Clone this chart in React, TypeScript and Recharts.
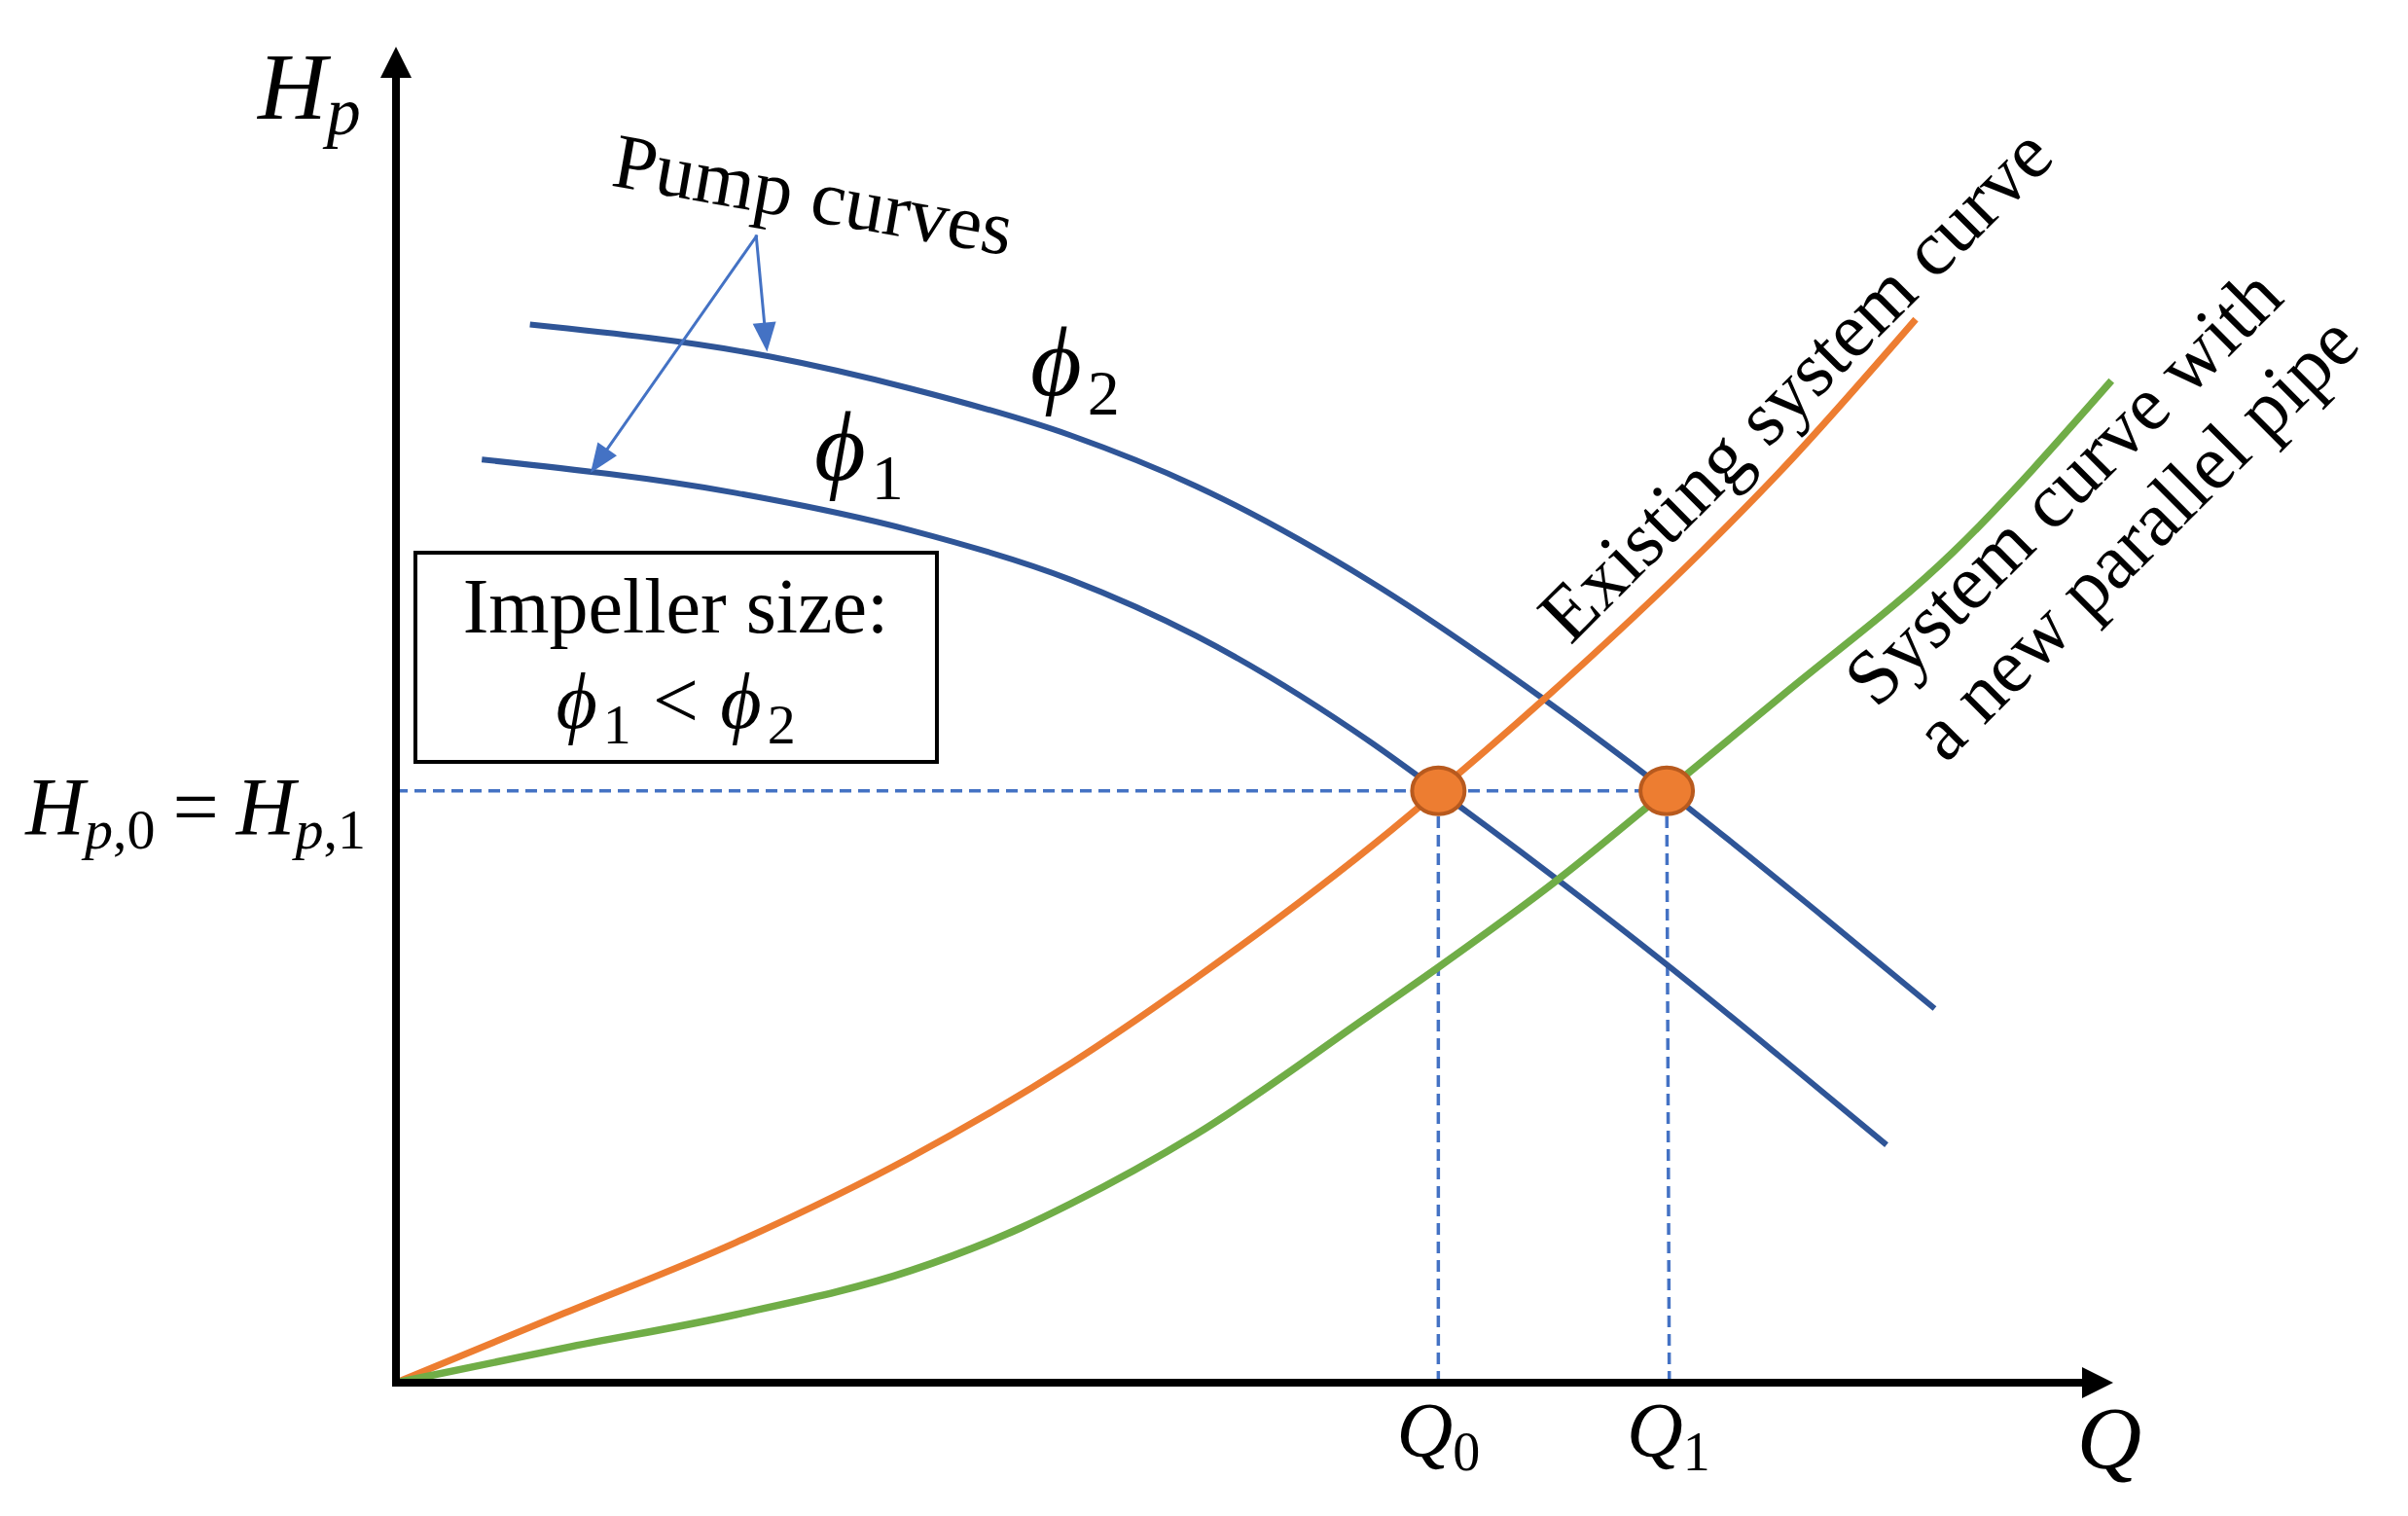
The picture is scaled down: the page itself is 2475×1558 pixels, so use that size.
import React from 'react'
import {
  ComposedChart, Line, Scatter, XAxis, YAxis,
  ReferenceLine, ReferenceDot, ReferenceArea,
} from 'recharts'

// axes run 0..100 in both directions (flow Q, head Hp)
const PUMP_PHI2 = [
  { x: 7.8, y: 79.2 }, { x: 21.8, y: 76.8 }, { x: 30.0, y: 74.4 }, { x: 39.3, y: 70.9 },
  { x: 46.6, y: 67.1 }, { x: 56.7, y: 60.0 }, { x: 66.8, y: 51.2 }, { x: 74.0, y: 44.3 },
  { x: 83.1, y: 34.9 }, { x: 89.6, y: 28.0 },
]
const PUMP_PHI1 = [
  { x: 5.0, y: 69.1 }, { x: 19.8, y: 66.6 }, { x: 30.0, y: 63.8 }, { x: 39.3, y: 60.1 },
  { x: 46.6, y: 55.9 }, { x: 56.7, y: 48.0 }, { x: 60.7, y: 44.3 }, { x: 67.8, y: 37.5 },
  { x: 73.9, y: 31.4 }, { x: 80.6, y: 24.4 }, { x: 86.8, y: 17.8 },
]
const SYSTEM_EXISTING = [
  { x: 0, y: 0 }, { x: 9.8, y: 5.2 }, { x: 19.8, y: 10.5 }, { x: 30.0, y: 16.9 },
  { x: 39.3, y: 23.9 }, { x: 46.6, y: 30.3 }, { x: 57.9, y: 41.3 }, { x: 60.7, y: 44.3 },
  { x: 66.8, y: 51.1 }, { x: 76.1, y: 62.3 }, { x: 80.6, y: 68.2 }, { x: 88.5, y: 79.6 },
]
const SYSTEM_PARALLEL = [
  { x: 0, y: 0 }, { x: 9.8, y: 2.6 }, { x: 19.8, y: 5.1 }, { x: 30.0, y: 8.4 },
  { x: 36.4, y: 11.6 }, { x: 39.3, y: 13.4 }, { x: 46.6, y: 18.6 }, { x: 56.7, y: 27.5 },
  { x: 60.6, y: 31.0 }, { x: 67.8, y: 37.8 }, { x: 74.0, y: 44.3 }, { x: 80.6, y: 51.3 },
  { x: 90.7, y: 62.2 }, { x: 99.9, y: 75.0 },
]
const OPERATING_POINTS = [{ x: 60.7, y: 44.3 }, { x: 74.0, y: 44.3 }]
const X_TICKS = [60.7, 74.1]
const X_TICK_SUBS = ['0', '1']
const Y_TICKS = [44.3]

const SERIF = "'Liberation Serif', 'DejaVu Serif', serif"
const PHI = '\u03D5'
const BLUE = '#2F5597'
const ORANGE = '#ED7D31'
const GREEN = '#70AD47'
const GUIDE = '#4472C4'

// line with a filled triangle at its end
const arrow = (len: number, wid: number, color: string, lw: number) => (p: any) => {
  const { x1, y1, x2, y2 } = p
  const a = Math.atan2(y2 - y1, x2 - x1)
  const bx = x2 - len * Math.cos(a)
  const by = y2 - len * Math.sin(a)
  const nx = (-Math.sin(a) * wid) / 2
  const ny = (Math.cos(a) * wid) / 2
  return (
    <g>
      <line x1={x1} y1={y1} x2={bx} y2={by} stroke={color} strokeWidth={lw} strokeLinecap="square" />
      <polygon points={`${x2},${y2} ${bx + nx},${by + ny} ${bx - nx},${by - ny}`} fill={color} />
    </g>
  )
}

const rotated = (text: string, angle: number, size = 80) => (p: any) => (
  <text
    x={p.cx} y={p.cy} transform={`rotate(${angle} ${p.cx} ${p.cy})`}
    textAnchor="middle" dominantBaseline="central" fontFamily={SERIF} fontSize={size} fill="#000"
  >
    {text}
  </text>
)

const phiLabel = (sub: string) => (p: any) => (
  <text x={p.cx} y={p.cy} fontFamily={SERIF} fontSize={102} fill="#000">
    <tspan fontStyle="italic">{PHI}</tspan>
    <tspan fontSize={66} dy={20} dx={6}>{sub}</tspan>
  </text>
)

const impellerLine = (p: any) => (
  <text x={p.cx} y={p.cy} textAnchor="middle" fontFamily={SERIF} fontSize={82} fill="#000">
    <tspan fontStyle="italic">{PHI}</tspan>
    <tspan fontSize={58} dy={16} dx={6}>1</tspan>
    <tspan dy={-16} dx={22} fontSize={84}>{'<'}</tspan>
    <tspan dx={22} fontStyle="italic">{PHI}</tspan>
    <tspan fontSize={58} dy={16} dx={6}>2</tspan>
  </text>
)

const hpLabel = (p: any) => (
  <text x={p.cx} y={p.cy} fontFamily={SERIF} fontSize={98} fontStyle="italic" fill="#000">
    <tspan>H</tspan>
    <tspan fontSize={70} dy={16}>p</tspan>
  </text>
)

const qLabel = (p: any) => (
  <text x={p.cx} y={p.cy} textAnchor="middle" fontFamily={SERIF} fontSize={92} fontStyle="italic" fill="#000">
    Q
  </text>
)

const operatingDot = (p: any) => (
  <ellipse cx={p.cx} cy={p.cy} rx={27} ry={24} fill={ORANGE} stroke="#B85A1E" strokeWidth={4} />
)

const QTick = (p: any) => {
  const i = X_TICKS.indexOf(p.payload.value)
  return (
    <text x={p.x} y={p.y} textAnchor="middle" fontFamily={SERIF} fontSize={80} fill="#000">
      <tspan fontStyle="italic">Q</tspan>
      <tspan fontSize={56} dy={14}>{X_TICK_SUBS[i]}</tspan>
    </text>
  )
}

const HTick = (p: any) => (
  <text x={p.x} y={p.y + 45} textAnchor="end" fontFamily={SERIF} fontSize={84} fill="#000">
    <tspan fontStyle="italic">H</tspan>
    <tspan fontSize={58} dy={14} fontStyle="italic">p</tspan>
    <tspan fontSize={58}>,0</tspan>
    <tspan dy={-14} dx={18}>=</tspan>
    <tspan dx={18} fontStyle="italic">H</tspan>
    <tspan fontSize={58} dy={14} fontStyle="italic">p</tspan>
    <tspan fontSize={58}>,1</tspan>
  </text>
)

export default function App() {
  return (
    <div style={{ position: 'absolute', left: 0, top: 0, background: '#fff' }}>
      <ComposedChart width={2475} height={1558} margin={{ top: 48, right: 303, bottom: 0, left: 0 }}>
        <XAxis
          type="number" dataKey="x" domain={[0, 100]} ticks={X_TICKS}
          axisLine={false} tickLine={false} tickSize={76} tickMargin={0} height={137}
          tick={<QTick />} interval={0}
        />
        <YAxis
          type="number" dataKey="y" domain={[0, 100]} ticks={Y_TICKS}
          axisLine={false} tickLine={false} tickSize={31} tickMargin={0} width={407}
          tick={<HTick />} interval={0}
        />

        {/* dashed guides to the operating points */}
        <ReferenceLine segment={[{ x: 0, y: 44.3 }, { x: 74.0, y: 44.3 }]} stroke={GUIDE} strokeWidth={3.5} strokeDasharray="12 7" ifOverflow="visible" />
        <ReferenceLine segment={[{ x: 60.7, y: 0 }, { x: 60.7, y: 44.3 }]} stroke={GUIDE} strokeWidth={3.5} strokeDasharray="12 7" ifOverflow="visible" />
        <ReferenceLine segment={[{ x: 74.15, y: 0 }, { x: 74.0, y: 44.3 }]} stroke={GUIDE} strokeWidth={3.5} strokeDasharray="12 7" ifOverflow="visible" />

        <ReferenceArea x1={1.13} x2={31.5} y1={46.47} y2={62.13} fill="#fff" fillOpacity={1} stroke="#000" strokeWidth={4} ifOverflow="visible" />

        <Line data={PUMP_PHI2} dataKey="y" type="monotone" stroke={BLUE} strokeWidth={6} dot={false} activeDot={false} isAnimationActive={false} />
        <Line data={PUMP_PHI1} dataKey="y" type="monotone" stroke={BLUE} strokeWidth={6} dot={false} activeDot={false} isAnimationActive={false} />
        <Line data={SYSTEM_EXISTING} dataKey="y" type="monotone" stroke={ORANGE} strokeWidth={7} dot={false} activeDot={false} isAnimationActive={false} />
        <Line data={SYSTEM_PARALLEL} dataKey="y" type="monotone" stroke={GREEN} strokeWidth={7.5} dot={false} activeDot={false} isAnimationActive={false} />
        <Scatter data={OPERATING_POINTS} dataKey="y" shape={operatingDot} isAnimationActive={false} />

        {/* axes with arrow heads */}
        <ReferenceLine segment={[{ x: 0, y: 0 }, { x: 100, y: 0 }]} shape={arrow(32, 32, '#000', 8)} ifOverflow="visible" />
        <ReferenceLine segment={[{ x: 0, y: 0 }, { x: 0, y: 100 }]} shape={arrow(32, 32, '#000', 8)} ifOverflow="visible" />

        {/* "Pump curves" pointers */}
        <ReferenceLine segment={[{ x: 20.98, y: 85.8 }, { x: 21.61, y: 77.16 }]} shape={arrow(30, 24, GUIDE, 3)} ifOverflow="visible" />
        <ReferenceLine segment={[{ x: 20.98, y: 85.8 }, { x: 11.33, y: 68.1 }]} shape={arrow(30, 24, GUIDE, 3)} ifOverflow="visible" />

        <ReferenceDot x={24.31} y={88.93} r={1} shape={rotated('Pump curves', 10)} ifOverflow="visible" />
        <ReferenceDot x={81.47} y={74.73} r={1} shape={rotated('Existing system curve', -45)} ifOverflow="visible" />
        <ReferenceDot x={97.05} y={67.08} r={1} shape={rotated('System curve with', -45)} ifOverflow="visible" />
        <ReferenceDot x={101.3} y={63.29} r={1} shape={rotated('a new parallel pipe', -45)} ifOverflow="visible" />
        <ReferenceDot x={16.29} y={56.15} r={1} shape={(p: any) => (
          <text x={p.cx} y={p.cy} textAnchor="middle" fontFamily={SERIF} fontSize={80} fill="#000">Impeller size:</text>
        )} ifOverflow="visible" />
        <ReferenceDot x={16.29} y={49.02} r={1} shape={impellerLine} ifOverflow="visible" />
        <ReferenceDot x={36.94} y={73.93} r={1} shape={phiLabel('2')} ifOverflow="visible" />
        <ReferenceDot x={24.36} y={67.59} r={1} shape={phiLabel('1')} ifOverflow="visible" />
        <ReferenceDot x={-8.05} y={94.61} r={1} shape={hpLabel} ifOverflow="visible" />
        <ReferenceDot x={99.77} y={-6.41} r={1} shape={qLabel} ifOverflow="visible" />
      </ComposedChart>
    </div>
  )
}
